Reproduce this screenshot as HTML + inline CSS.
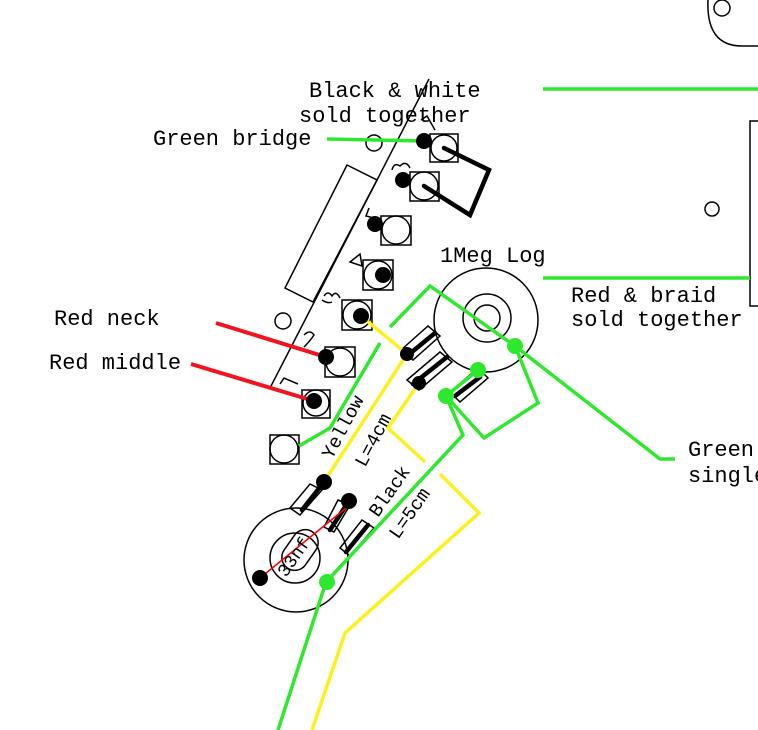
<!DOCTYPE html>
<html><head><meta charset="utf-8"><style>
html,body{margin:0;padding:0;background:#fff;}
svg{display:block;}
text{font-family:"Liberation Mono","DejaVu Sans Mono",monospace;fill:#000;}
</style></head><body>
<svg width="758" height="730" viewBox="0 0 758 730" xmlns="http://www.w3.org/2000/svg">
<g fill="none" stroke="#000" stroke-width="1.5">
  <circle cx="722" cy="8" r="8"/>
  <path d="M708,0 Q706,46 742,46 L758,46"/>
  <path d="M758,121 L750,121 L750,306 L758,306"/>
  <circle cx="712" cy="209" r="7"/>
  <line x1="429" y1="79" x2="270" y2="388"/>
  <polygon points="347,165 377,180 313,302 285,288"/>
  <circle cx="374" cy="143" r="8"/>
  <circle cx="283" cy="321" r="8"/>
  <rect x="430" y="134" width="28" height="28"/><circle cx="444" cy="148" r="13"/>
  <rect x="410" y="172" width="29" height="29"/><circle cx="424" cy="186" r="14"/>
  <rect x="381" y="216" width="30" height="29"/><circle cx="396" cy="230" r="14"/>
  <rect x="363" y="260" width="30" height="30"/><circle cx="378" cy="275" r="14"/>
  <rect x="342" y="300" width="30" height="30"/><circle cx="357" cy="315" r="14"/>
  <rect x="325" y="347" width="30" height="30"/><circle cx="340" cy="362" r="14"/>
  <rect x="302" y="390" width="28" height="28"/><circle cx="316" cy="403" r="13"/>
  <rect x="270" y="435" width="29" height="29"/><circle cx="284" cy="449" r="14"/>
  <circle cx="486" cy="320" r="52"/>
  <circle cx="487" cy="318" r="24"/>
  <circle cx="487" cy="318" r="13"/>
  <polygon points="401,350 428,326 440,336 413,360"/>
  <polygon points="407,380 440,352 452,362 419,390"/>
  <polygon points="450,392 478,368 488,378 460,402"/>
  <circle cx="296" cy="560" r="52"/>
  <circle cx="295" cy="558" r="25"/>
  <polygon points="310,484 322,490 300,515 290,508"/>
  <polygon points="338,500 350,505 334,532 324,527"/>
  <polygon points="362,520 374,528 350,556 340,548"/>
  <rect x="-22" y="-13" width="44" height="26" rx="13" transform="translate(300,550) rotate(-55)"/>
  <path d="M421,120 l6,-4 l8,14" />
  <path d="M392,170 q2,-8 8,-4 q6,-6 10,2"/>
  <path d="M369,208 l-3,8 l8,2"/>
  <path d="M350,262 l10,-8 l2,12 z"/>
  <path d="M324,296 q4,-6 8,0 q4,-6 8,2 M322,300 q6,4 10,2"/>
  <path d="M304,335 q6,-6 10,0 q-4,6 -10,12"/>
  <path d="M280,384 l4,-6 l14,6"/>
</g>
<g fill="none" stroke="#000" stroke-width="4.5" stroke-linecap="round">
  <polyline points="444,148 489,170 470,215 424,186"/>
  <line x1="407" y1="356" x2="435" y2="333"/>
  <line x1="413" y1="384" x2="447" y2="357"/>
  <line x1="455" y1="396" x2="480" y2="377"/>
  <line x1="324" y1="482" x2="302" y2="510"/>
  <line x1="349" y1="501" x2="330" y2="530"/>
  <line x1="368" y1="525" x2="346" y2="552"/>
</g>
<line x1="260" y1="578" x2="346" y2="508" stroke="#f00" stroke-width="1.5"/>
<g fill="none" stroke="#2ee82e" stroke-width="3.5">
  <line x1="543" y1="89" x2="758" y2="89"/>
  <line x1="543" y1="278" x2="750" y2="278"/>
  <line x1="327" y1="139" x2="424" y2="141"/>
  <polyline points="299,446 330,428 380,343"/>
  <polyline points="390,327 430,286 515,346 660,459 675,459"/>
  <polyline points="515,346 538,403 484,438 446,396 463,435 326,582 278,730"/>
  <line x1="478" y1="370" x2="446" y2="396"/>
</g>
<g fill="none" stroke="#ffef1f" stroke-width="3.5">
  <line x1="361" y1="316" x2="407" y2="354"/>
  <line x1="407" y1="354" x2="324" y2="482"/>
  <polyline points="419,383 388,428 425,462"/>
  <polyline points="440,474 479,513 345,633 312,730"/>
</g>
<g stroke="#f0141e" stroke-width="4">
  <line x1="216" y1="323" x2="326" y2="357"/>
  <line x1="191" y1="364" x2="314" y2="401"/>
</g>
<g fill="#000">
  <circle cx="424" cy="141" r="8"/><circle cx="403" cy="180" r="8"/>
  <circle cx="375" cy="224" r="8"/><circle cx="383" cy="275" r="8"/>
  <circle cx="361" cy="316" r="8"/><circle cx="326" cy="357" r="8"/>
  <circle cx="314" cy="401" r="8"/>
  <circle cx="407" cy="354" r="7"/><circle cx="419" cy="383" r="7"/>
  <circle cx="324" cy="482" r="8"/><circle cx="349" cy="501" r="8"/>
  <circle cx="260" cy="578" r="8"/>
</g>
<g fill="#2ee82e">
  <circle cx="515" cy="346" r="8"/><circle cx="478" cy="370" r="8"/>
  <circle cx="446" cy="396" r="8"/><circle cx="327" cy="582" r="8"/>
</g>
<g font-size="22">
  <text x="309" y="97">Black &amp; white</text>
  <text x="299" y="122">sold together</text>
  <text x="153" y="145">Green bridge</text>
  <text x="440" y="262">1Meg Log</text>
  <text x="54" y="325">Red neck</text>
  <text x="49" y="369">Red middle</text>
  <text x="571" y="302">Red &amp; braid</text>
  <text x="571" y="326">sold together</text>
  <text x="688" y="456">Green</text>
  <text x="688" y="482">single</text>
</g>
<g font-size="19">
  <text transform="translate(332,460) rotate(-62)">Yellow</text>
  <text transform="translate(365,468) rotate(-62)">L=4cm</text>
  <text transform="translate(378,518) rotate(-55)">Black</text>
  <text transform="translate(398,540) rotate(-55)">L=5cm</text>
  <text transform="translate(286,578) rotate(-55)" font-size="18">33nf</text>
</g>
</svg>
</body></html>
